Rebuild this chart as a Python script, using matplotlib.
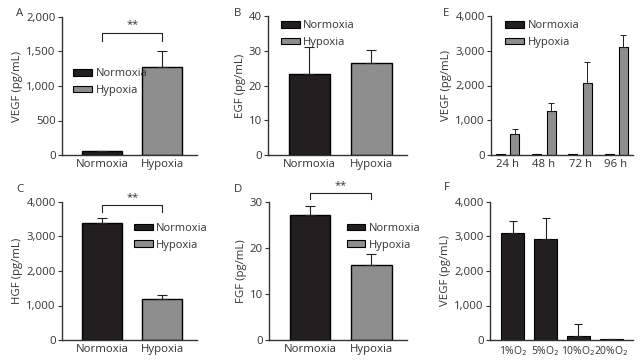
import numpy as np
import matplotlib.pyplot as plt
from matplotlib.patches import Patch

plt.rcParams['font.family'] = ['Open Sans', 'DejaVu Sans']
plt.rcParams['font.size'] = 8.2
plt.rcParams['text.color'] = '#333333'
plt.rcParams['axes.labelcolor'] = '#333333'
plt.rcParams['xtick.color'] = '#333333'
plt.rcParams['ytick.color'] = '#333333'

DARK = '#231f20'
GRAY = '#8e8e8e'

groups = ['Normoxia', 'Hypoxia']

# A: VEGF
vegf_mean = [55, 1270]
vegf_err = [10, 230]
# B: EGF
egf_mean = [23.3, 26.5]
egf_err = [7.7, 3.8]
# C: HGF
hgf_mean = [3380, 1180]
hgf_err = [170, 110]
# D: FGF
fgf_mean = [27.1, 16.4]
fgf_err = [2.0, 2.4]
# E: VEGF over time
times = ['24 h', '48 h', '72 h', '96 h']
time_norm = [30, 25, 30, 25]
time_hyp = [600, 1270, 2080, 3100]
time_hyp_err = [150, 220, 600, 350]
# F: VEGF by oxygen level
oxygen = ['1%O$_2$', '5%O$_2$', '10%O$_2$', '20%O$_2$']
oxy_mean = [3100, 2930, 130, 30]
oxy_err = [350, 620, 340, 0]

W, H = 640, 360
fig = plt.figure(figsize=(6.4, 3.6), dpi=100)


def px_axes(x0, y0, x1, y1):
    # pixel box (left, top, right, bottom) -> figure axes
    return fig.add_axes([x0 / W, 1 - y1 / H, (x1 - x0) / W, (y1 - y0) / H])


def style(ax, ylim, ticks, ylabel, fmt=True):
    for s in ['top', 'right']:
        ax.spines[s].set_visible(False)
    for s in ['left', 'bottom']:
        ax.spines[s].set_color('#333333')
        ax.spines[s].set_linewidth(1.0)
    ax.set_ylim(*ylim)
    ax.set_yticks(ticks)
    if fmt:
        ax.set_yticklabels([f'{t:,}' for t in ticks])
    ax.tick_params(axis='y', length=3, width=0.8, pad=1.5)
    ax.tick_params(axis='x', length=0, pad=3)
    ax.set_ylabel(ylabel, labelpad=2)


def two_bars(ax, means, errs):
    x = np.arange(2)
    ax.bar(x, means, width=0.66, color=[DARK, GRAY], edgecolor='black',
           linewidth=1.0)
    ax.errorbar(x, means, yerr=[np.zeros(2), errs], fmt='none',
                ecolor='#222222', elinewidth=0.8, capsize=3.5, capthick=0.8)
    ax.set_xticks(x)
    ax.set_xticklabels(groups)
    ax.set_xlim(-0.67, 1.58)


def legend(ax, loc, bbox):
    h = [Patch(facecolor=DARK, edgecolor='black', lw=0.8),
         Patch(facecolor=GRAY, edgecolor='black', lw=0.8)]
    ax.legend(h, groups, loc=loc, bbox_to_anchor=bbox, frameon=False,
              handlelength=1.7, handleheight=0.5, labelspacing=0.5,
              handletextpad=0.3, fontsize=8, borderaxespad=0)


def bracket(ax, y, drop):
    ax.plot([0, 0, 1, 1], [y - drop, y, y, y - drop], color='#222222',
            lw=0.8, clip_on=False)
    ax.text(0.5, y + drop * 0.3, '**', ha='center', va='bottom', fontsize=8)


# A
axA = px_axes(62, 17, 197, 155)
two_bars(axA, vegf_mean, vegf_err)
style(axA, (0, 2000), [0, 500, 1000, 1500, 2000], 'VEGF (pg/mL)')
bracket(axA, 1770, 120)
legend(axA, 'upper left', (0.05, 0.66))
fig.text(20 / W, 1 - 13 / H, 'A', ha='center', va='center')

# B
axB = px_axes(268, 16, 407, 155)
two_bars(axB, egf_mean, egf_err)
style(axB, (0, 40), [0, 10, 20, 30, 40], 'EGF (pg/mL)', fmt=False)
legend(axB, 'upper left', (0.06, 1.0))
fig.text(238 / W, 1 - 13 / H, 'B', ha='center', va='center')

# C
axC = px_axes(62, 202, 197, 340)
two_bars(axC, hgf_mean, hgf_err)
style(axC, (0, 4000), [0, 1000, 2000, 3000, 4000], 'HGF (pg/mL)')
bracket(axC, 3900, 190)
legend(axC, 'upper left', (0.5, 0.88))
fig.text(20 / W, 1 - 190 / H, 'C', ha='center', va='center')

# D
axD = px_axes(269, 202, 407, 340)
two_bars(axD, fgf_mean, fgf_err)
style(axD, (0, 30), [0, 10, 20, 30], 'FGF (pg/mL)', fmt=False)
bracket(axD, 32.0, 1.4)
legend(axD, 'upper left', (0.53, 0.88))
fig.text(238 / W, 1 - 190 / H, 'D', ha='center', va='center')

# E
axE = px_axes(491, 16, 633, 155)
xe = np.arange(len(times))
off, bw = 0.195, 0.25
axE.bar(xe - off, time_norm, width=bw, color=DARK, edgecolor='black', lw=0.8)
axE.bar(xe + off, time_hyp, width=bw, color=GRAY, edgecolor='black', lw=0.8)
axE.errorbar(xe + off, time_hyp, yerr=[np.zeros(4), time_hyp_err], fmt='none',
             ecolor='#222222', elinewidth=0.7, capsize=2.5, capthick=0.7)
axE.set_xticks(xe)
axE.set_xticklabels(times)
axE.set_xlim(-0.47, 3.47)
style(axE, (0, 4000), [0, 1000, 2000, 3000, 4000], 'VEGF (pg/mL)')
legend(axE, 'upper left', (0.07, 1.0))
fig.text(446 / W, 1 - 13 / H, 'E', ha='center', va='center')

# F
axF = px_axes(490, 202, 633, 340)
xf = np.arange(len(oxygen))
axF.bar(xf, oxy_mean, width=0.7, color=DARK, edgecolor='black', lw=0.8)
axF.errorbar(xf, oxy_mean, yerr=[np.zeros(4), oxy_err], fmt='none',
             ecolor='#222222', elinewidth=0.8, capsize=3, capthick=0.8)
axF.set_xticks(xf)
axF.set_xticklabels(oxygen, fontsize=7.5)
axF.set_xlim(-0.7, 3.67)
style(axF, (0, 4000), [0, 1000, 2000, 3000, 4000], 'VEGF (pg/mL)')
fig.text(447 / W, 1 - 188 / H, 'F', ha='center', va='center')

fig.savefig('out.png', dpi=100, facecolor='white')
